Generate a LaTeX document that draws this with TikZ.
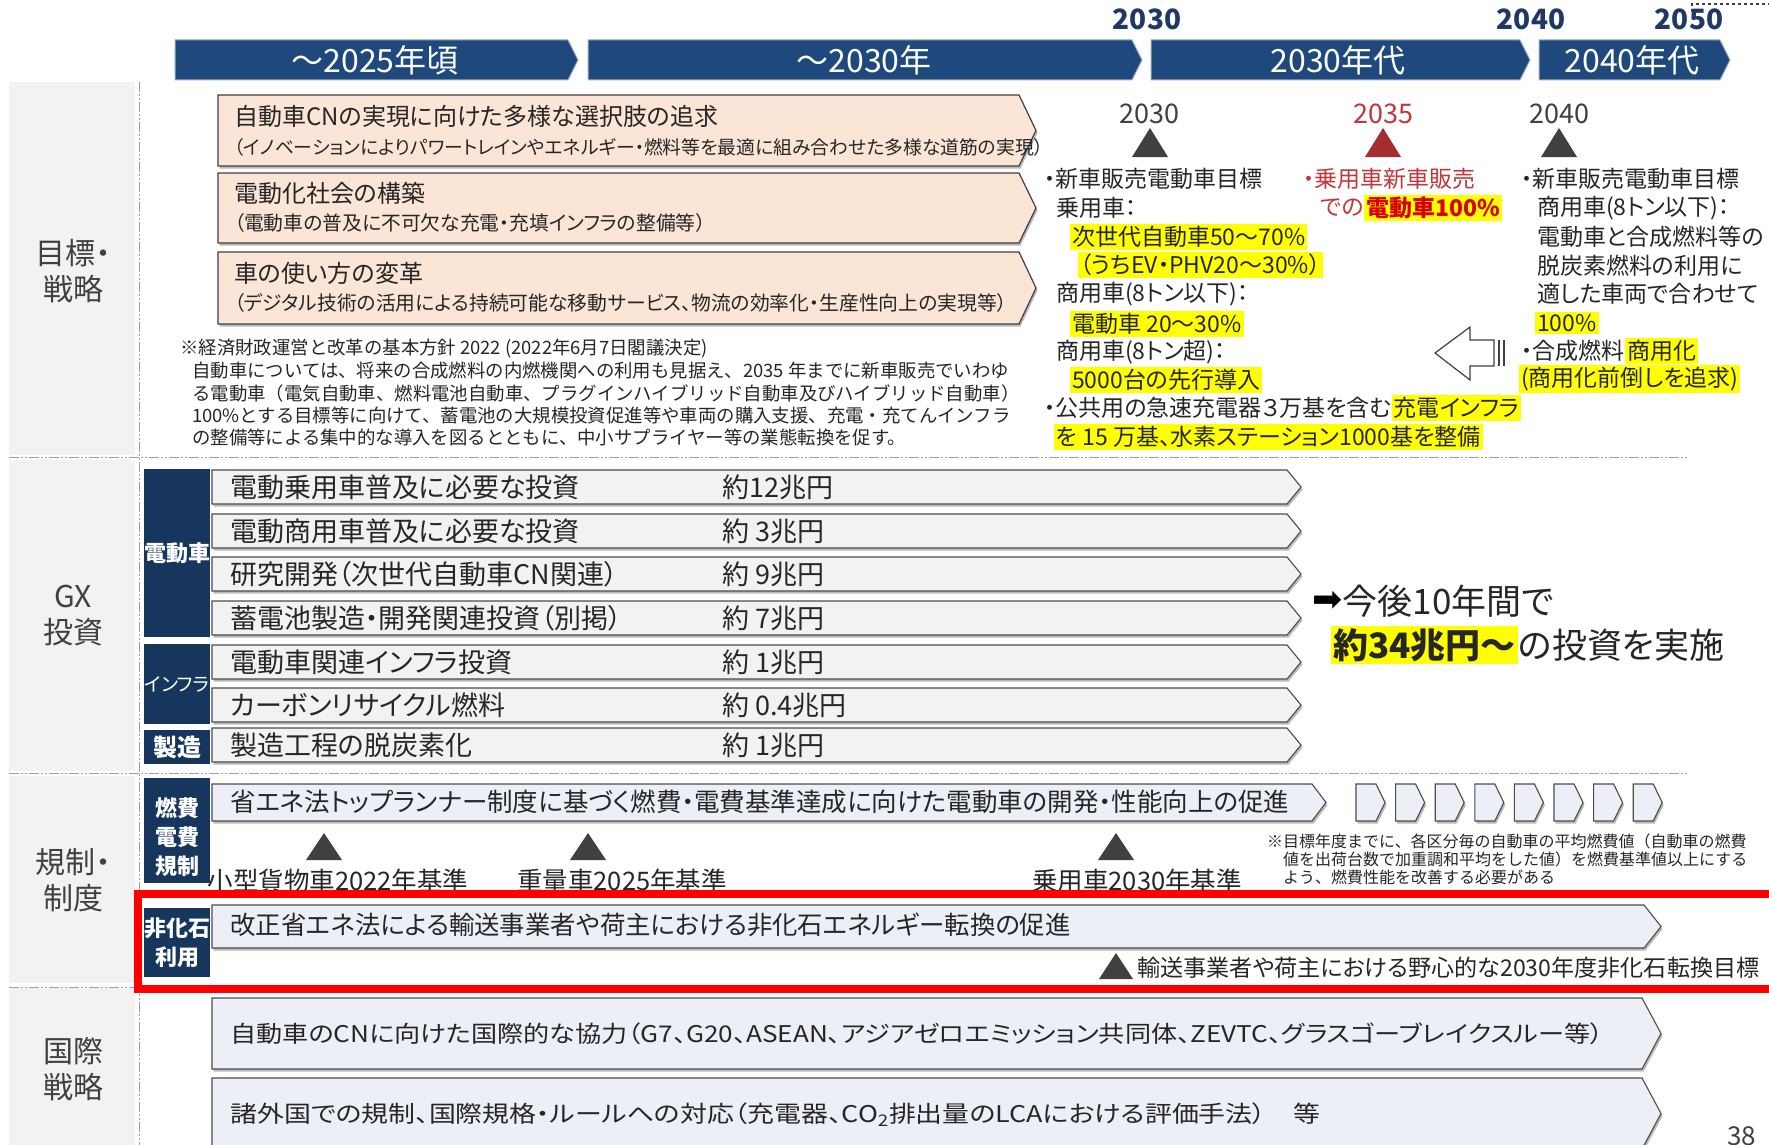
\documentclass[tikz,border=0pt]{standalone}
\usepackage{fontspec}
\usepackage{graphicx}
\setmainfont{Noto Sans CJK JP}[RawFeature=+palt]
\newfontfamily\jpm{Noto Sans CJK JP}
\newfontfamily\symf{DejaVu Sans}
\newcommand\fsz[1]{\fontsize{#1pt}{#1pt}\selectfont}
\newcommand\hstr[2]{\scalebox{#1}[1]{#2}}
\definecolor{navyH}{RGB}{31,73,125}
\definecolor{navyL}{RGB}{23,54,93}
\definecolor{peach}{RGB}{251,229,214}
\definecolor{gbar}{RGB}{242,242,242}
\definecolor{bbar}{RGB}{236,239,246}
\definecolor{panel}{RGB}{242,242,242}
\definecolor{txt}{RGB}{38,38,38}
\definecolor{dgray}{RGB}{64,64,64}
\definecolor{rtxt}{RGB}{192,55,60}
\definecolor{rtri}{RGB}{165,45,45}
\definecolor{yrnavy}{RGB}{31,56,100}
\definecolor{hl}{RGB}{255,255,0}
\newcommand\chev[6]{\path[#1] (#2,#3) -- ({#4-#6},#3) -- (#4,{(#3+#5)/2}) -- ({#4-#6},#5) -- (#2,#5) -- cycle;}
\newcommand\tri[5]{\fill[#1] ({#2-#5},#4) -- (#2,#3) -- ({#2+#5},#4) -- cycle;}
\tikzset{
  tx/.style={inner sep=0pt, anchor=west, text=txt},
  hlb/.style={fill=hl, inner sep=2pt, anchor=west, text=txt},
  hd/.style={inner sep=0pt, text=white, font=\fsz{32}},
  yr/.style={inner sep=0pt, text=yrnavy, font=\fsz{28}\bfseries},
  sep/.style={draw=gray!75, line width=1pt, dash pattern=on 10pt off 2pt on 2pt off 2pt on 2pt off 2pt},
  lab/.style={inner sep=0pt, align=center, text=dgray, font=\fontsize{30pt}{36pt}\selectfont},
  nav/.style={inner sep=0pt, align=center, text=white, font=\fontsize{22pt}{29pt}\selectfont\bfseries},
  shad/.style={fill=gray!55, shift={(1.5,2.5)}},
  peachbar/.style={fill=peach, draw=dgray, line width=1.2pt},
  graybar/.style={fill=gbar, draw=gray!60!black, line width=1.1pt},
  bluebar/.style={fill=bbar, draw=gray!60!black, line width=1.1pt},
}
\begin{document}
\begin{tikzpicture}[x=1pt,y=-1pt]
\useasboundingbox (0,0) rectangle (1769,1145);
\clip (0,0) rectangle (1769,1145);
\fill[white] (0,0) rectangle (1769,1145);

% left panels
\fill[panel] (9,82) rectangle (135,455);
\fill[panel] (9,460) rectangle (135,771);
\fill[panel] (9,776) rectangle (135,983);
\fill[panel] (9,988) rectangle (135,1145);
\node[lab] (L1) at (73,271) {目標・\\戦略};
\node[lab] (L2) at (73,616) {GX\\投資};
\node[lab] (L3) at (73,880) {規制・\\制度};
\node[lab] (L4) at (73,1069) {国際\\戦略};

% separators
\draw[sep] (9,457) -- (1687,457);
\draw[sep] (9,773) -- (1687,773);
\draw[sep] (9,987) -- (1687,987);
\draw[sep] (139,82) -- (139,1145);
\draw[dashed, line width=1.2pt, dgray] (1692,12) -- (1692,4) -- (1769,4);

% header
\chev{fill=navyH, draw=navyH!45!white, line width=1pt}{175}{40}{578}{80}{10}
\chev{fill=navyH, draw=navyH!45!white, line width=1pt}{588}{40}{1142}{80}{10}
\chev{fill=navyH, draw=navyH!45!white, line width=1pt}{1151}{40}{1530}{80}{10}
\chev{fill=navyH, draw=navyH!45!white, line width=1pt}{1539}{40}{1730}{80}{10}
\node[hd] (h1) at (375,60) {～2025年頃};
\node[hd] (h2) at (864,60) {～2030年};
\node[hd] (h3) at (1338,60) {2030年代};
\node[hd] (h4) at (1632,60) {2040年代};
\node[yr] (y1) at (1147,19) {2030};
\node[yr] (y2) at (1531,19) {2040};
\node[yr] (y3) at (1689,19) {2050};

% goal arrows
\chev{shad}{218}{95}{1036}{166}{17}
\chev{peachbar}{218}{95}{1036}{166}{17}
\chev{shad}{218}{173}{1036}{243}{17}
\chev{peachbar}{218}{173}{1036}{243}{17}
\chev{shad}{218}{252}{1036}{324}{17}
\chev{peachbar}{218}{252}{1036}{324}{17}
\node[tx, font=\fsz{24}] (g1) at (234,116) {自動車CNの実現に向けた多様な選択肢の追求};
\node[tx, font=\fsz{18.8}] (g1s) at (234,147) {（イノベーションによりパワートレインやエネルギー・燃料等を最適に組み合わせた多様な道筋の実現）};
\node[tx, font=\fsz{24}] (g2) at (234,193) {電動化社会の構築};
\node[tx, font=\fsz{19.8}] (g2s) at (234,223) {（電動車の普及に不可欠な充電・充填インフラの整備等）};
\node[tx, font=\fsz{24}] (g3) at (234,273) {車の使い方の変革};
\node[tx, font=\fsz{19.8}] (g3s) at (234,303) {（デジタル技術の活用による持続可能な移動サービス、物流の効率化・生産性向上の実現等）};

% footnote
\node[tx, font=\jpm\fsz{18.4}] (f0) at (180,349) {※経済財政運営と改革の基本方針 2022 (2022年6月7日閣議決定)};
\node[tx, font=\jpm\fsz{18.4}] (f1) at (192,371) {自動車については、将来の合成燃料の内燃機関への利用も見据え、2035 年までに新車販売でいわゆ};
\node[tx, font=\jpm\fsz{18.4}] (f2) at (192,393) {る電動車（電気自動車、燃料電池自動車、プラグインハイブリッド自動車及びハイブリッド自動車）};
\node[tx, font=\jpm\fsz{18.4}] (f3) at (192,415) {100\%とする目標等に向けて、蓄電池の大規模投資促進等や車両の購入支援、充電・充てんインフラ};
\node[tx, font=\jpm\fsz{18.4}] (f4) at (192,437) {の整備等による集中的な導入を図るとともに、中小サプライヤー等の業態転換を促す。};

% milestones
\node[inner sep=0pt, text=dgray, font=\fsz{27}] (m1) at (1149,114) {2030};
\node[inner sep=0pt, text=rtxt, font=\fsz{27}] (m2) at (1383,114) {2035};
\node[inner sep=0pt, text=dgray, font=\fsz{27}] (m3) at (1559,114) {2040};
\tri{dgray}{1150}{128}{157}{18}
\tri{rtri}{1383}{128}{157}{18}
\tri{dgray}{1559}{128}{157}{18}

\node[tx, font=\fsz{23}] (a1) at (1044,179) {・新車販売電動車目標};
\node[tx, font=\fsz{23}] (a2) at (1056,208) {乗用車：};
\node[hlb, font=\fsz{23}] (a3) at (1070,237) {次世代自動車50～70\%};
\node[hlb, font=\fsz{23}] (a4) at (1078,265) {（うちEV・PHV20～30\%）};
\node[tx, font=\fsz{23}] (a5) at (1056,294) {商用車(8トン以下)：};
\node[hlb, font=\fsz{23}] (a6) at (1070,324) {電動車 20～30\%};
\node[tx, font=\fsz{23}] (a7) at (1056,352) {商用車(8トン超)：};
\node[hlb, font=\fsz{23}] (a8) at (1070,380) {5000台の先行導入};
\node[tx, font=\fsz{23}] (a9) at (1044,408) {・公共用の急速充電器３万基を含む};
\node[hlb, font=\fsz{23}] (a9b) at (a9.east) {充電インフラ};
\node[hlb, font=\fsz{23}] (a10) at (1054,437) {を 15 万基、水素ステーション1000基を整備};

\node[tx, text=rtxt, font=\fsz{23}] (b1) at (1303,179) {・乗用車新車販売};
\node[tx, text=rtxt, font=\fsz{23}] (b2) at (1320,208) {での};
\node[hlb, text=red!85!black, font=\fsz{23}\bfseries] (b2b) at (b2.east) {電動車100\%};

\node[tx, font=\fsz{23}] (c1) at (1521,179) {・新車販売電動車目標};
\node[tx, font=\fsz{23}] (c2) at (1537,208) {商用車(8トン以下)：};
\node[tx, font=\fsz{23}] (c3) at (1537,237) {電動車と合成燃料等の};
\node[tx, font=\fsz{23}] (c4) at (1537,266) {脱炭素燃料の利用に};
\node[tx, font=\fsz{23}] (c5) at (1537,294) {適した車両で合わせて};
\node[hlb, font=\fsz{23}] (c6) at (1535,323) {100\%};
\node[tx, font=\fsz{23}] (c7) at (1521,351) {・合成燃料};
\node[hlb, font=\fsz{23}] (c7b) at (c7.east) {商用化};
\node[hlb, font=\fsz{23}] (c8) at (1519,379) {(商用化前倒しを追求)};

% white block arrow
\path[fill=white, draw=dgray, line width=1.2pt] (1435,353) -- (1470,327) -- (1470,340) -- (1494,340) -- (1494,366) -- (1470,366) -- (1470,380) -- cycle;
\draw[dgray, line width=2.5pt] (1499,340) -- (1499,366);
\draw[dgray, line width=1.2pt] (1504,340) -- (1504,366);

% GX investment
\fill[navyL] (144,469) rectangle (210,637);
\fill[navyL] (144,644) rectangle (210,724);
\fill[navyL] (144,730) rectangle (210,764);
\node[inner sep=0pt, text=white, font=\fsz{22}\bfseries] (n1) at (177,553) {電動車};
\node[inner sep=0pt, text=white, font=\fsz{19}] (n2) at (177,684) {インフラ};
\node[inner sep=0pt, text=white, font=\fsz{24}\bfseries] (n3) at (177,747) {製造};
\foreach \c in {487,531,574,618,662,705,745}{
  \chev{shad}{212}{\c-17}{1301}{\c+17}{14}
  \chev{graybar}{212}{\c-17}{1301}{\c+17}{14}
}
\node[tx, font=\fsz{27}] (i1) at (230,487) {電動乗用車普及に必要な投資};
\node[tx, font=\fsz{27}] (i2) at (230,531) {電動商用車普及に必要な投資};
\node[tx, font=\fsz{27}] (i3) at (230,574) {研究開発（次世代自動車CN関連）};
\node[tx, font=\fsz{27}] (i4) at (230,618) {蓄電池製造・開発関連投資（別掲）};
\node[tx, font=\fsz{27}] (i5) at (230,662) {電動車関連インフラ投資};
\node[tx, font=\fsz{27}] (i6) at (230,705) {カーボンリサイクル燃料};
\node[tx, font=\fsz{27}] (i7) at (230,745) {製造工程の脱炭素化};
\node[tx, font=\fsz{27}] (v1) at (722,487) {約12兆円};
\node[tx, font=\fsz{27}] (v2) at (722,531) {約 3兆円};
\node[tx, font=\fsz{27}] (v3) at (722,574) {約 9兆円};
\node[tx, font=\fsz{27}] (v4) at (722,618) {約 7兆円};
\node[tx, font=\fsz{27}] (v5) at (722,662) {約 1兆円};
\node[tx, font=\fsz{27}] (v6) at (722,705) {約 0.4兆円};
\node[tx, font=\fsz{27}] (v7) at (722,745) {約 1兆円};
\node[tx, text=black, font=\symf\fsz{36}] (ar) at (1312,601) {➡};
\node[tx, font=\fsz{35}] (s1) at (ar.east) {今後10年間で};
\node[hlb, font=\fsz{35}\bfseries] (s2) at (1331,645) {約34兆円～};
\node[tx, font=\fsz{35}] (s2b) at (s2.east) {の投資を実施};

% regulation
\fill[navyL] (144,778) rectangle (210,883);
\node[nav] (n4) at (177,837) {燃費\\電費\\規制};
\chev{shad}{212}{784}{1326}{821}{14}
\chev{bluebar}{212}{784}{1326}{821}{14}
\node[tx, font=\fsz{25.5}] (r1) at (230,802) {省エネ法トップランナー制度に基づく燃費・電費基準達成に向けた電動車の開発・性能向上の促進};
\foreach \i in {0,...,7}{
  \chev{shad}{1356+\i*39.6}{784}{1385+\i*39.6}{821}{9}
  \chev{bluebar}{1356+\i*39.6}{784}{1385+\i*39.6}{821}{9}
}
\tri{dgray}{324}{833}{860}{18}
\tri{dgray}{588}{833}{860}{18}
\tri{dgray}{1116}{833}{860}{18}
\node[inner sep=0pt, text=txt, font=\fsz{25.5}] (k1) at (338,881) {小型貨物車2022年基準};
\node[inner sep=0pt, text=txt, font=\fsz{25.5}] (k2) at (622,881) {重量車2025年基準};
\node[inner sep=0pt, text=txt, font=\fsz{25.5}] (k3) at (1137,881) {乗用車2030年基準};
\node[tx, font=\jpm\fsz{16}] (fn1) at (1267,841) {※目標年度までに、各区分毎の自動車の平均燃費値（自動車の燃費};
\node[tx, font=\jpm\fsz{16}] (fn2) at (1283,859) {値を出荷台数で加重調和平均をした値）を燃費基準値以上にする};
\node[tx, font=\jpm\fsz{16}] (fn3) at (1283,877) {よう、燃費性能を改善する必要がある};

\fill[navyL] (144,908) rectangle (210,977);
\node[nav] (n5) at (177,943) {非化石\\利用};
\chev{shad}{212}{905}{1661}{948}{17}
\chev{bluebar}{212}{905}{1661}{948}{17}
\node[tx, font=\fsz{25.4}] (r2) at (230,925) {改正省エネ法による輸送事業者や荷主における非化石エネルギー転換の促進};
\tri{dgray}{1116}{953}{979}{17}
\node[tx, font=\fsz{23.1}] (r3) at (1137,968) {輸送事業者や荷主における野心的な2030年度非化石転換目標};

% international
\chev{shad}{212}{998}{1661}{1069}{19}
\chev{bluebar}{212}{998}{1661}{1069}{19}
\chev{shad}{212}{1078}{1661}{1149}{19}
\chev{bluebar}{212}{1078}{1661}{1149}{19}
\node[tx, font=\fsz{23}] (x1) at (230,1034) {\hstr{1.137}{自動車のCNに向けた国際的な協力（G7、G20、ASEAN、アジアゼロエミッション共同体、ZEVTC、グラスゴーブレイクスルー等）}};
\node[tx, font=\fsz{23}] (x2) at (230,1115) {\hstr{1.17}{諸外国での規制、国際規格・ルールへの対応（充電器、CO\textsubscript{2}排出量のLCAにおける評価手法）　等}};
\node[inner sep=0pt, anchor=north west, text=dgray, font=\fsz{26}] (pg) at (1727,1126) {38};

% red frame
\draw[red, line width=8pt] (1780,894) -- (138,894) -- (138,989) -- (1780,989);
\end{tikzpicture}
\end{document}
